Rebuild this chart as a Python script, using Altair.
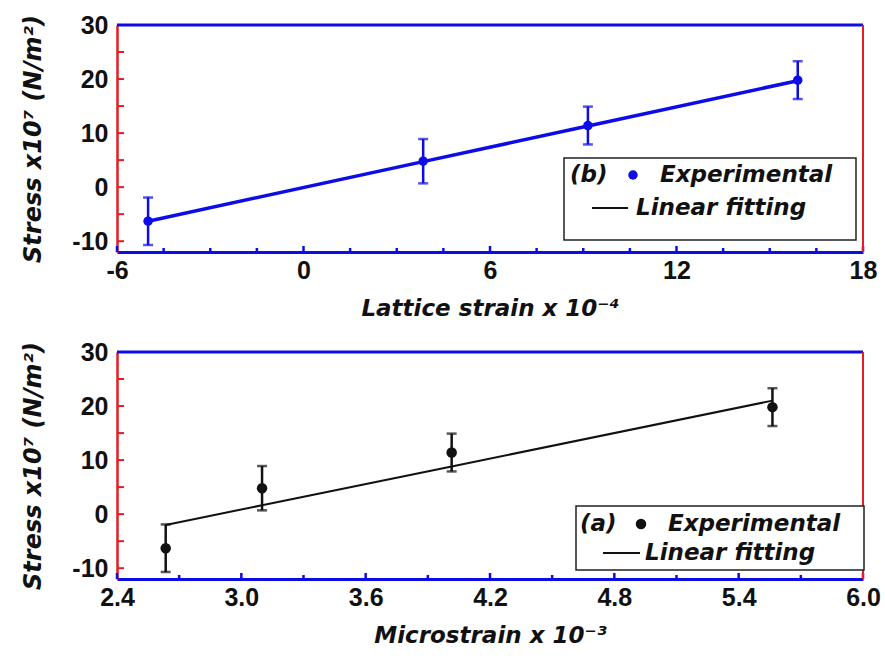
import altair as alt
import pandas as pd

# ---- data ----
lattice_strain = [-5.0, 3.85, 9.15, 15.9]          # x 10^-4
microstrain = [2.635, 3.10, 4.015, 5.563]           # x 10^-3
stress = [-6.3, 4.8, 11.4, 19.8]                     # x 10^7 N/m^2
stress_err = [4.4, 4.1, 3.5, 3.5]
fit_lattice = [-6.3, 4.72, 11.3, 19.7]
fit_micro = [-2.0, 1.65, 8.83, 21.0]

top_x_ticks = [-6, 0, 6, 12, 18]
top_x_minor = [-4.5, -3, -1.5, 1.5, 3, 4.5, 7.5, 9, 10.5, 13.5, 15, 16.5]
bot_x_ticks = [2.4, 3.0, 3.6, 4.2, 4.8, 5.4, 6.0]
bot_x_minor = [2.7, 3.3, 3.9, 4.5, 5.1, 5.7]
y_ticks = [-10, 0, 10, 20, 30]
y_minor = [-10, -5, 0, 5, 10, 15, 20, 25]

BLUE = "#0c0ce6"
RED = "#e01e24"
W, H = 746, 227
LABEL_FONT = "Liberation Sans"
TITLE_FONT = "DejaVu Sans"


def panel(xvals, fitvals, xdomain, xticks, xminor, xtitle, xlabel_expr, color,
          line_w, msize, tag, leg):
    df = pd.DataFrame({
        "x": xvals, "y": stress,
        "lo": [s - e for s, e in zip(stress, stress_err)],
        "hi": [s + e for s, e in zip(stress, stress_err)],
        "fit": fitvals,
    })
    xs = alt.Scale(domain=xdomain, nice=False, zero=False)
    ys = alt.Scale(domain=[-12, 30], nice=False, zero=False)
    xaxis = alt.Axis(values=xticks, labelExpr=xlabel_expr, grid=False, tickSize=0,
                     domainColor=BLUE, domainWidth=3, labelFont=LABEL_FONT,
                     labelFontWeight="bold", labelFontSize=25, labelColor="#111",
                     labelPadding=6, title=xtitle, titleFont=TITLE_FONT,
                     titleFontStyle="italic", titleFontWeight="bold",
                     titleFontSize=23, titleColor="#111", titleY=45,
                     labelFlush=False)
    yaxis = alt.Axis(values=y_ticks, labelExpr="'' + datum.value", grid=False,
                     tickSize=0, domainColor=RED,
                     domainWidth=2.5, labelFont=LABEL_FONT, labelFontWeight="bold",
                     labelFontSize=25, labelColor="#111", labelPadding=9,
                     title="Stress x10⁷ (N/m²)", titleFont=TITLE_FONT,
                     titleFontStyle="italic", titleFontWeight="bold",
                     titleFontSize=24, titleColor="#111", titleX=-72,
                     titleY=H / 2, labelFlush=False)

    base = alt.Chart(df)
    line = base.mark_line(color=color, strokeWidth=line_w).encode(
        x=alt.X("x:Q", scale=xs, axis=xaxis), y=alt.Y("fit:Q", scale=ys, axis=yaxis))
    bars = base.mark_rule(color=color, strokeWidth=2.5).encode(
        x="x:Q", y="lo:Q", y2="hi:Q")
    cap_lo = base.mark_tick(color=color, orient="horizontal", size=10,
                            thickness=2.5).encode(x="x:Q", y="lo:Q")
    cap_hi = base.mark_tick(color=color, orient="horizontal", size=10,
                            thickness=2.5).encode(x="x:Q", y="hi:Q")
    pts = base.mark_point(filled=True, shape="circle", color=color, size=msize,
                          opacity=1).encode(x="x:Q", y="y:Q")

    # axis decorations (inward ticks, top and right frame)
    yt = alt.Chart(pd.DataFrame({"v": y_minor})).mark_rule(
        color=RED, strokeWidth=2).encode(y="v:Q", x=alt.value(0), x2=alt.value(7))
    xt_major = alt.Chart(pd.DataFrame({"v": xticks})).mark_rule(
        color=BLUE, strokeWidth=2.5).encode(x="v:Q", y=alt.value(H), y2=alt.value(H - 6))
    xt_minor = alt.Chart(pd.DataFrame({"v": xminor})).mark_rule(
        color=BLUE, strokeWidth=2.5).encode(x="v:Q", y=alt.value(H), y2=alt.value(H - 4))
    one = pd.DataFrame({"k": [0]})
    top_frame = alt.Chart(one).mark_rule(color=BLUE, strokeWidth=3).encode(
        x=alt.value(0), x2=alt.value(W), y=alt.value(0))
    right_frame = alt.Chart(one).mark_rule(color=RED, strokeWidth=2).encode(
        x=alt.value(W), y=alt.value(0), y2=alt.value(H))

    # legend box
    bx0, bx1, by0, by1, r1, r2, tagx, dotx, expx, lx0, lx1, linx = leg
    box = alt.Chart(one).mark_rect(fill="white", stroke="#222", strokeWidth=1.5).encode(
        x=alt.value(bx0), x2=alt.value(bx1), y=alt.value(by0), y2=alt.value(by1))
    txt = dict(font=TITLE_FONT, fontStyle="italic", fontWeight="bold", fontSize=23,
               align="left", baseline="middle", color="#111")
    t_tag = alt.Chart(pd.DataFrame({"t": [tag]})).mark_text(**txt).encode(
        x=alt.value(tagx), y=alt.value(r1), text="t:N")
    t_exp = alt.Chart(pd.DataFrame({"t": ["Experimental"]})).mark_text(**txt).encode(
        x=alt.value(expx), y=alt.value(r1), text="t:N")
    t_lin = alt.Chart(pd.DataFrame({"t": ["Linear fitting"]})).mark_text(**txt).encode(
        x=alt.value(linx), y=alt.value(r2), text="t:N")
    dot = alt.Chart(one).mark_point(filled=True, shape="circle", color=color,
                                    size=msize, opacity=1).encode(
        x=alt.value(dotx), y=alt.value(r1))
    sym = alt.Chart(one).mark_rule(color="#111", strokeWidth=2).encode(
        x=alt.value(lx0), x2=alt.value(lx1), y=alt.value(r2))

    return alt.layer(line, bars, cap_lo, cap_hi, pts, yt, xt_minor, xt_major,
                     top_frame, right_frame, box, t_tag, t_exp, t_lin, dot, sym
                     ).properties(width=W, height=H)


top = panel(lattice_strain, fit_lattice, [-6, 18], top_x_ticks, top_x_minor,
            "Lattice strain x 10⁻⁴", "'' + datum.value", BLUE, 3.5, 90, "(b)",
            (447, 739, 133, 215, 150, 183, 453, 516, 543, 475, 511, 519))
bottom = panel(microstrain, fit_micro, [2.4, 6.0], bot_x_ticks, bot_x_minor,
               "Microstrain x 10⁻³", "format(datum.value, '.1f')", "#111", 2, 110,
               "(a)",
               (459, 747, 154, 218, 172, 201, 463, 524, 551, 486, 523, 528))

chart = alt.vconcat(top, bottom, spacing=20).properties(
    padding={"top": 13, "left": 20, "right": 2, "bottom": 0},
    background="white",
).configure_view(stroke=None)

chart.save("out.html", embed_options={"renderer": "svg", "actions": False})
